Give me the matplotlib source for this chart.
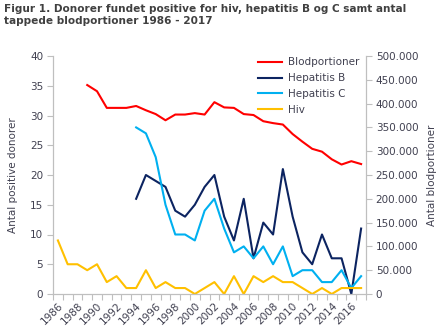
import matplotlib
matplotlib.use("Agg")
import matplotlib.pyplot as plt
import numpy as np

years = list(range(1986, 2018))

# Blood portions collected (right axis), from 1989
blod_years = list(range(1989, 2018))
blodportioner = [439000, 426000, 391000, 391000, 391000, 395000, 386000, 378000,
                 365000, 377000, 377000, 380000, 377000, 403000, 392000, 391000,
                 378000, 376000, 363000, 359000, 356000, 336000, 320000, 305000,
                 299000, 283000, 272000, 279000, 273000]

# Positive donors (left axis)
hep_years = list(range(1994, 2018))
hepatitis_b = [16, 20, 19, 18, 14, 13, 15, 18, 20, 13, 9, 16, 6, 12, 10, 21,
               13, 7, 5, 10, 6, 6, 0, 11]
hepatitis_c = [28, 27, 23, 15, 10, 10, 9, 14, 16, 11, 7, 8, 6, 8, 5, 8,
               3, 4, 4, 2, 2, 4, 1, 3]
hiv = [9, 5, 5, 4, 5, 2, 3, 1, 1, 4, 1, 2, 1, 1, 0, 1, 2, 0, 3, 0, 3, 2, 3,
       2, 2, 1, 0, 1, 0, 1, 1, 1]

left_ticks = [0, 5, 10, 15, 20, 25, 30, 35, 40]
right_ticks = [0, 50000, 100000, 150000, 200000, 250000, 300000, 350000, 400000, 450000, 500000]
right_labels = ["0", "50.000", "100.000", "150.000", "200.000", "250.000",
                "300.000", "350.000", "400.000", "450.000", "500.000"]

title = "Figur 1. Donorer fundet positive for hiv, hepatitis B og C samt antal\ntappede blodportioner 1986 - 2017"

RED = "#ff0000"
NAVY = "#0c2461"
CYAN = "#00b0f0"
AMBER = "#ffc000"
SPINE = "#bfbfbf"
TXT = "#404050"

plt.rcParams["font.family"] = ["DejaVu Sans"]

fig = plt.figure(figsize=(4.4, 3.33), dpi=100)
ax = fig.add_axes([53 / 440, 1 - 294 / 333, (366 - 53) / 440, (294 - 56) / 333])
ax2 = ax.twinx()

pos = {y: i for i, y in enumerate(years)}
lw = 1.5

ax2.plot([pos[y] for y in blod_years], blodportioner, color=RED, lw=lw, label="Blodportioner")
ax.plot([pos[y] for y in hep_years], hepatitis_b, color=NAVY, lw=lw, label="Hepatitis B")
ax.plot([pos[y] for y in hep_years], hepatitis_c, color=CYAN, lw=lw, label="Hepatitis C")
ax.plot([pos[y] for y in years], hiv, color=AMBER, lw=lw, label="Hiv")

ax.set_xlim(-0.5, len(years) - 0.5)
ax.set_ylim(0, 40)
ax2.set_ylim(0, 500000)
ax.set_yticks(left_ticks)
ax.set_yticklabels([str(t) for t in left_ticks])
ax2.set_yticks(right_ticks)
ax2.set_yticklabels(right_labels)

# Category labels every second year, tick marks between categories
ax.set_xticks([pos[y] for y in years if (y - 1986) % 2 == 0])
ax.set_xticklabels([str(y) for y in years if (y - 1986) % 2 == 0],
                   rotation=45, ha="right", va="top", rotation_mode="anchor")
ax.set_xticks(np.arange(-0.5, len(years), 1.0), minor=True)
ax.tick_params(axis="x", which="major", length=0, pad=5, labelsize=7.5, labelcolor=TXT)
ax.tick_params(axis="x", which="minor", length=4, color=SPINE, width=0.8)
ax.tick_params(axis="y", length=4, color=SPINE, width=0.8, labelsize=7.5, labelcolor=TXT, pad=3)
ax2.tick_params(axis="y", length=4, color=SPINE, width=0.8, labelsize=7.5, labelcolor=TXT, pad=3)

for a in (ax, ax2):
    a.spines["top"].set_visible(False)
    for s in ("left", "right", "bottom"):
        a.spines[s].set_color(SPINE)
        a.spines[s].set_linewidth(0.8)

ax.set_ylabel("Antal positive donorer", fontsize=7.5, color=TXT, labelpad=9)
ax2.set_ylabel("Antal blodportioner", fontsize=7.5, color=TXT, rotation=90, labelpad=6)

h1, l1 = ax2.get_legend_handles_labels()
h2, l2 = ax.get_legend_handles_labels()
leg = ax2.legend(h1 + h2, l1 + l2, loc="upper right", bbox_to_anchor=(1.0, 1.02),
                 frameon=False, fontsize=7.5, handlelength=2.3, handletextpad=0.6,
                 labelspacing=0.55, borderaxespad=0.2)
for t in leg.get_texts():
    t.set_color(TXT)

fig.text(4 / 440, 1 - 4 / 333, title, fontsize=7.6, fontweight="bold", color="#404040",
         ha="left", va="top", linespacing=1.2)

fig.savefig("out.png", dpi=100)
